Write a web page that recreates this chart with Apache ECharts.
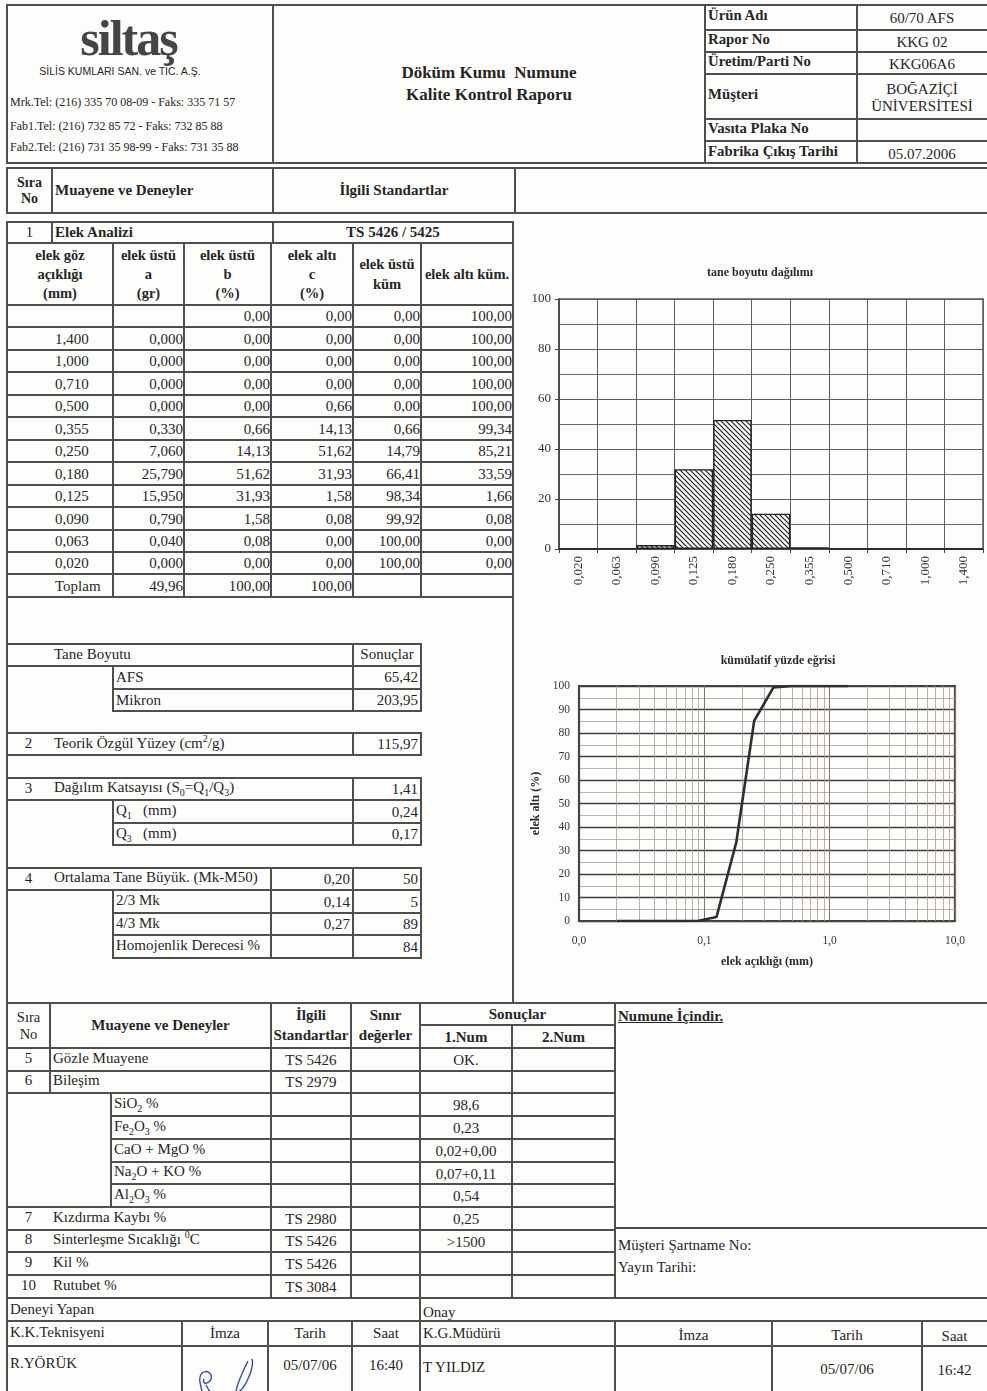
<!DOCTYPE html>
<html><head><meta charset="utf-8">
<script src="https://cdn.jsdelivr.net/npm/echarts@6/dist/echarts.min.js"></script>
<style>
html,body{margin:0;padding:0;background:#fff;}
#page{position:relative;width:987px;height:1391px;overflow:hidden;background:#fdfdfc;font-family:"Liberation Serif","Times New Roman",serif;color:#262626;}
.h{position:absolute;height:2px;background:#4e4e4e;}
.v{position:absolute;width:2px;background:#4e4e4e;}
.t{position:absolute;display:flex;align-items:center;box-sizing:border-box;padding:0 3px;font-size:15px;line-height:1.15;white-space:nowrap;}
.b{font-weight:bold;}
.c{justify-content:center;text-align:center;}
.l{justify-content:flex-start;}
.r{justify-content:flex-end;}
sub,sup{font-size:10px;line-height:0;}
#chart1{position:absolute;left:515px;top:255px;width:472px;height:345px;}
#chart2{position:absolute;left:515px;top:645px;width:472px;height:330px;}
</style></head>
<body><div id="page">
<div id="chart1"></div><div id="chart2"></div>
</div>
<script>
// ---------- data ----------
const sieveMm      = [1.400, 1.000, 0.710, 0.500, 0.355, 0.250, 0.180, 0.125, 0.090, 0.063, 0.020];
const retainedGr   = [0.000, 0.000, 0.000, 0.000, 0.330, 7.060, 25.790, 15.950, 0.790, 0.040, 0.000];
const retainedPct  = [0.00, 0.00, 0.00, 0.00, 0.66, 14.13, 51.62, 31.93, 1.58, 0.08, 0.00];
const passingPct   = [0.00, 0.00, 0.00, 0.66, 14.13, 51.62, 31.93, 1.58, 0.08, 0.00, 0.00];
const cumRetained  = [0.00, 0.00, 0.00, 0.00, 0.66, 14.79, 66.41, 98.34, 99.92, 100.00, 100.00];
const cumPassing   = [100.00, 100.00, 100.00, 100.00, 99.34, 85.21, 33.59, 1.66, 0.08, 0.00, 0.00];
const totalGr = 49.96, totalB = 100.00, totalC = 100.00;
const logMinorTicks = [0.02,0.03,0.04,0.05,0.06,0.07,0.08,0.09,0.2,0.3,0.4,0.5,0.6,0.7,0.8,0.9,2,3,4,5,6,7,8,9];

const fmt = (v, d) => v.toFixed(d).replace('.', ',');

// ---------- drawing helpers for the form ----------
const page = document.getElementById('page');
function H(x1, x2, y){ const d=document.createElement('div'); d.className='h'; d.style.left=(x1-1)+'px'; d.style.top=(y-1)+'px'; d.style.width=(x2-x1+2)+'px'; page.appendChild(d); }
function V(x, y1, y2){ const d=document.createElement('div'); d.className='v'; d.style.left=(x-1)+'px'; d.style.top=(y1-1)+'px'; d.style.height=(y2-y1+2)+'px'; page.appendChild(d); }
function T(x1, x2, y1, y2, html, cls, extra){ const d=document.createElement('div'); d.className='t '+(cls||'c'); d.style.left=x1+'px'; d.style.top=y1+'px'; d.style.width=(x2-x1)+'px'; d.style.height=(y2-y1)+'px'; d.innerHTML='<span>'+html+'</span>'; if(extra) d.style.cssText+=extra; page.appendChild(d); return d; }

// ---------- header ----------
H(7,987,5); H(7,987,163);
V(7,5,163); V(273,5,163); V(705,5,163); V(857,5,163);
[30,52,74,119,141].forEach(y=>H(705,987,y));
T(7,250,12,66,'siltaş','c','font-size:50px;font-weight:bold;letter-spacing:-2px;color:#454545;');
T(7,233,63,80,'SİLİS KUMLARI SAN. ve TİC. A.Ş.','c','font-family:"Liberation Sans",Arial,sans-serif;font-size:10.5px;');
T(7,273,94,112,'Mrk.Tel: (216) 335 70 08-09 - Faks: 335 71 57','l','font-size:12px;');
T(7,273,118,136,'Fab1.Tel: (216) 732 85 72 -  Faks: 732 85 88','l','font-size:12px;');
T(7,273,139,157,'Fab2.Tel: (216) 731 35 98-99 - Faks: 731 35 88','l','font-size:12px;');
T(273,705,62,84,'Döküm Kumu&nbsp; Numune','c b','font-size:17px;');
T(273,705,84,106,'Kalite Kontrol Raporu','c b','font-size:17px;');
const hdrLabels = ['Ürün Adı','Rapor No','Üretim/Parti No','Müşteri','Vasıta Plaka No','Fabrika Çıkış Tarihi'];
const hdrValues = ['60/70 AFS','KKG 02','KKG06A6','BOĞAZİÇİ<br>ÜNİVERSİTESİ','','05.07.2006'];
const hdrRows = [5,30,52,74,119,141,165];
hdrLabels.forEach((s,i)=>{
  T(705,857,hdrRows[i],hdrRows[i+1]-3,s,'l b','font-size:14.8px;');
  T(857,987,hdrRows[i]+3,hdrRows[i+1],hdrValues[i],'c','font-size:15px;');
});

// ---------- second header ----------
H(7,987,168); H(7,987,213);
V(7,168,213); V(52,168,213); V(273,168,213); V(515,168,213);
T(7,52,170,212,'Sıra<br>No','c b','font-size:14px;');
T(52,273,170,212,'Muayene ve Deneyler','l b');
T(273,515,170,212,'İlgili Standartlar','c b');

// ---------- sieve analysis table ----------
H(7,513,222); H(7,513,243); H(7,513,305);
V(7,222,1003); V(513,222,1003);
V(52,222,243); V(273,222,243);
T(7,52,222,243,'1','c');
T(52,273,222,243,'Elek Analizi','l b');
T(273,513,222,243,'TS 5426 / 5425','c b');
const colX = [7,113,184,271,353,421,513];
const rowTop = 305, rowH = 22.45, nRows = 13;
colX.slice(1,-1).forEach(x=>V(x,243,rowTop+rowH*nRows));
for(let i=1;i<=nRows;i++) H(7,513,Math.round(rowTop+rowH*i));
const hdrTxt = ['elek göz<br>açıklığı<br>(mm)','elek üstü<br>a<br>(gr)','elek üstü<br>b<br>(%)','elek altı<br>c<br>(%)','elek üstü<br>küm','elek altı küm.'];
hdrTxt.forEach((s,i)=>T(colX[i],colX[i+1],245,304,s,'c b','font-size:14.5px;line-height:1.33;padding:0;'));
function row(i, cells){
  const y1 = Math.round(rowTop+rowH*i)+2, y2 = Math.round(rowTop+rowH*(i+1));
  cells.forEach((s,k)=>{ if(s==='') return;
    if(k===0) T(colX[0]+45,colX[1],y1,y2,s,'l');
    else T(colX[k],colX[k+1],y1,y2,s,'r','padding-right:1px;');
  });
}
row(0,['','',fmt(0,2),fmt(0,2),fmt(0,2),fmt(100,2)]);
sieveMm.forEach((m,i)=>row(i+1,[fmt(m,3),fmt(retainedGr[i],3),fmt(retainedPct[i],2),fmt(passingPct[i],2),fmt(cumRetained[i],2),fmt(cumPassing[i],2)]));
row(12,['Toplam',fmt(totalGr,2),fmt(totalB,2),fmt(totalC,2),'','']);

// ---------- result blocks ----------
H(7,421,644); H(7,421,666); H(113,421,689); H(113,421,711);
V(353,644,711); V(421,644,711); V(113,666,711);
T(51,353,644,666,'Tane Boyutu','l');
T(353,421,644,666,'Sonuçlar','c');
T(113,353,667,689,'AFS','l'); T(353,421,667,689,'65,42','r');
T(113,353,690,711,'Mikron','l'); T(353,421,690,711,'203,95','r');

H(7,421,733); H(7,421,755); V(353,733,755); V(421,733,755);
T(7,50,733,755,'2','c'); T(51,353,733,755,'Teorik Özgül Yüzey (cm<sup>2</sup>/g)','l'); T(353,421,735,755,'115,97','r');

H(7,421,778); H(7,421,800); H(113,421,823); H(113,421,845);
V(353,778,845); V(421,778,845); V(113,800,845);
T(7,50,778,800,'3','c'); T(51,353,777,799,'Dağılım Katsayısı (S<sub>0</sub>=Q<sub>1</sub>/Q<sub>3</sub>)','l'); T(353,421,780,800,'1,41','r');
T(113,353,800,822,'Q<sub>1</sub>&nbsp;&nbsp; (mm)','l'); T(353,421,802,823,'0,24','r');
T(113,353,823,845,'Q<sub>3</sub>&nbsp;&nbsp; (mm)','l'); T(353,421,825,845,'0,17','r');

H(7,421,868); H(7,421,890); H(113,421,913); H(113,421,935); H(113,421,958);
V(271,868,958); V(353,868,958); V(421,868,958); V(113,890,958);
T(7,50,868,890,'4','c'); T(51,271,867,889,'Ortalama Tane Büyük. (Mk-M50)','l');
T(271,353,870,890,'0,20','r'); T(353,421,870,890,'50','r');
T(113,271,890,912,'2/3 Mk','l'); T(271,353,892,913,'0,14','r'); T(353,421,892,913,'5','r');
T(113,271,913,935,'4/3 Mk','l'); T(271,353,915,935,'0,27','r'); T(353,421,915,935,'89','r');
T(113,271,935,957,'Homojenlik Derecesi %','l'); T(353,421,937,958,'84','r');

// ---------- lower table ----------
H(7,987,1003); H(420,615,1025); H(7,615,1048);
V(7,1003,1298); V(271,1003,1298); V(351,1003,1298); V(420,1003,1298); V(615,1003,1298); V(512,1025,1298);
V(50,1003,1093); V(111,1093,1205);
T(7,50,1004,1047,'Sıra<br>No','c','font-size:14.5px;');
T(50,271,1004,1047,'Muayene ve Deneyler','c b');
T(271,351,1004,1047,'İlgili<br>Standartlar','c b','padding:0;line-height:1.3;');
T(351,420,1004,1047,'Sınır<br>değerler','c b','padding:0;line-height:1.3;');
T(420,615,1004,1025,'Sonuçlar','c b');
T(420,512,1027,1048,'1.Num','c b');
T(512,615,1027,1048,'2.Num','c b');
const lowNo   = ['5','6','','','','','','7','8','9','10'];
const lowName = ['Gözle Muayene','Bileşim','SiO<sub>2</sub> %','Fe<sub>2</sub>O<sub>3</sub> %','CaO + MgO %','Na<sub>2</sub>O + KO %','Al<sub>2</sub>O<sub>3</sub> %','Kızdırma Kaybı %','Sinterleşme Sıcaklığı <sup>0</sup>C','Kil %','Rutubet %'];
const lowStd  = ['TS 5426','TS 2979','','','','','','TS 2980','TS 5426','TS 5426','TS 3084'];
const lowRes1 = ['OK.','','98,6','0,23','0,02+0,00','0,07+0,11','0,54','0,25','>1500','',''];
const lowTop = 1048, lowH = 22.7;
lowName.forEach((s,i)=>{
  const y1 = Math.round(lowTop+lowH*i), y2 = Math.round(lowTop+lowH*(i+1));
  const sub = (i>=2 && i<=6);
  if(i<10) H((i>=2 && i<=5)?111:7, 615, y2);
  if(lowNo[i]) T(7,50,y1,y2-2,lowNo[i],'c');
  T(sub?111:50, 271, y1, y2-2, s, 'l');
  if(lowStd[i]) T(271,351,y1+2,y2,lowStd[i],'c');
  if(lowRes1[i]) T(420,512,y1+2,y2+1,lowRes1[i],'c');
});
T(615,987,1005,1028,'Numune İçindir.','l b','text-decoration:underline;');
H(615,987,1228);
T(615,987,1235,1257,'Müşteri Şartname No:','l');
T(615,987,1257,1279,'Yayın Tarihi:','l');

// ---------- footer ----------
H(7,987,1298); H(7,987,1321); H(7,987,1346);
V(7,1298,1391); V(420,1298,1391);
[182,268,352,615,772,922].forEach(x=>V(x,1321,1391));
T(7,420,1299,1320,'Deneyi Yapan','l');
T(420,987,1302,1323,'Onay','l');
T(7,182,1321,1344,'K.K.Teknisyeni','l'); T(182,268,1322,1346,'İmza','c'); T(268,352,1322,1346,'Tarih','c'); T(352,420,1322,1346,'Saat','c');
T(420,615,1322,1346,'K.G.Müdürü','l'); T(615,772,1324,1348,'İmza','c'); T(772,922,1324,1348,'Tarih','c'); T(922,987,1325,1349,'Saat','c');
T(7,182,1352,1376,'R.YÖRÜK','l'); T(268,352,1354,1378,'05/07/06','c'); T(352,420,1354,1378,'16:40','c');
T(420,615,1356,1380,'T YILDIZ','l'); T(772,922,1358,1382,'05/07/06','c'); T(922,987,1359,1383,'16:42','c');
const sig = document.createElementNS('http://www.w3.org/2000/svg','svg');
sig.setAttribute('width','90'); sig.setAttribute('height','40');
sig.style.cssText='position:absolute;left:188px;top:1355px;';
sig.innerHTML='<path d="M14 36 C12 28 10 22 14 18 C20 14 26 20 22 26 C18 30 14 28 16 24 M18 30 C20 34 22 38 26 40 M60 6 C56 14 50 26 48 36 C47 40 54 36 58 28 C62 20 66 10 64 4" fill="none" stroke="#3a46b0" stroke-width="1.4"/>';
page.appendChild(sig);

// ---------- charts ----------
const SERIF = '"Liberation Serif","Times New Roman",serif';
const hatch = document.createElement('canvas'); hatch.width = 5; hatch.height = 5;
(function(){ const c = hatch.getContext('2d'); c.fillStyle='#fff'; c.fillRect(0,0,5,5);
  c.strokeStyle='#1e1e1e'; c.lineWidth=1.2; c.beginPath();
  c.moveTo(-1,-1); c.lineTo(6,6); c.moveTo(-1,4); c.lineTo(1,6); c.moveTo(4,-1); c.lineTo(6,1); c.stroke(); })();

const barCats = sieveMm.slice().reverse().map(v=>fmt(v,3));
const barVals = retainedPct.slice().reverse();

const ch1 = echarts.init(document.getElementById('chart1'), null, {renderer:'canvas'});
ch1.setOption({
  animation:false,
  textStyle:{fontFamily:SERIF},
  title:{text:'tane boyutu dağılımı', left:240, textAlign:'center', top:7,
         textStyle:{fontSize:12, fontWeight:'bold', color:'#2a2a2a', fontFamily:SERIF}},
  grid:{left:44, right:4, top:44, bottom:51, show:true, borderColor:'#555', borderWidth:1.5, backgroundColor:'transparent'},
  xAxis:{type:'category', data:barCats, boundaryGap:true,
    axisLine:{lineStyle:{color:'#444', width:1.5}},
    axisTick:{show:true, length:4, lineStyle:{color:'#444'}},
    axisLabel:{rotate:90, fontSize:13, color:'#333', margin:7, fontFamily:SERIF},
    splitLine:{show:true, lineStyle:{color:'#5e5e5e', width:1}}},
  yAxis:{type:'value', min:0, max:100, interval:20,
    axisLine:{show:true, lineStyle:{color:'#444', width:1.5}},
    axisTick:{show:true, length:4, lineStyle:{color:'#444'}},
    axisLabel:{fontSize:13, color:'#333', margin:8, fontFamily:SERIF},
    splitLine:{show:true, lineStyle:{color:'#5e5e5e', width:1}},
    minorTick:{show:false, splitNumber:2},
    minorSplitLine:{show:true, lineStyle:{color:'#6a6a6a', width:1}}},
  series:[{type:'bar', data:barVals, barCategoryGap:'0%', barGap:'0%',
    itemStyle:{color:{image:hatch, repeat:'repeat'}, borderColor:'#222', borderWidth:1.4}}]
});

const curve = sieveMm.map((m,i)=>[m, cumPassing[i]]).reverse();
const ch2 = echarts.init(document.getElementById('chart2'), null, {renderer:'canvas'});
ch2.setOption({
  animation:false,
  textStyle:{fontFamily:SERIF},
  title:{text:'kümülatif yüzde eğrisi', left:258, textAlign:'center', top:5,
         textStyle:{fontSize:12, fontWeight:'bold', color:'#2a2a2a', fontFamily:SERIF}},
  grid:{left:64, right:32, top:41, bottom:54, show:true, borderColor:'#4a4a4a', borderWidth:2.2},
  xAxis:{type:'log', logBase:10, min:0.01, max:10,
    name:'elek açıklığı (mm)', nameLocation:'middle', nameGap:35,
    nameTextStyle:{fontSize:12, fontWeight:'bold', color:'#2a2a2a', fontFamily:SERIF},
    axisLine:{lineStyle:{color:'#444', width:2}},
    axisTick:{show:false},
    axisLabel:{fontSize:11.5, color:'#333', margin:14, fontFamily:SERIF,
      formatter:v=>fmt(v,1)},
    splitLine:{show:true, lineStyle:{color:'#8c7266', width:1}}},
  yAxis:{type:'value', min:0, max:100, interval:10,
    name:'elek altı (%)', nameLocation:'middle', nameGap:31,
    nameTextStyle:{fontSize:12, fontWeight:'bold', color:'#2a2a2a', fontFamily:SERIF},
    axisLine:{show:true, lineStyle:{color:'#444', width:2}},
    axisTick:{show:false},
    axisLabel:{fontSize:11.5, color:'#333', margin:9, fontFamily:SERIF},
    splitLine:{show:true, lineStyle:{color:'#3e3e3e', width:1.3}},
    minorTick:{show:false, splitNumber:2},
    minorSplitLine:{show:true, lineStyle:{color:'#a0a0a0', width:0.8}}},
  series:[{type:'line', data:curve, symbol:'none',
    lineStyle:{color:'#2e2e2e', width:2.6}, z:5,
    markLine:{silent:true, symbol:['none','none'], label:{show:false}, z:1,
      lineStyle:{color:'#b09a90', width:0.8, type:'solid'},
      data:logMinorTicks.map(v=>({xAxis:v}))}}]
});
</script>
</body></html>
